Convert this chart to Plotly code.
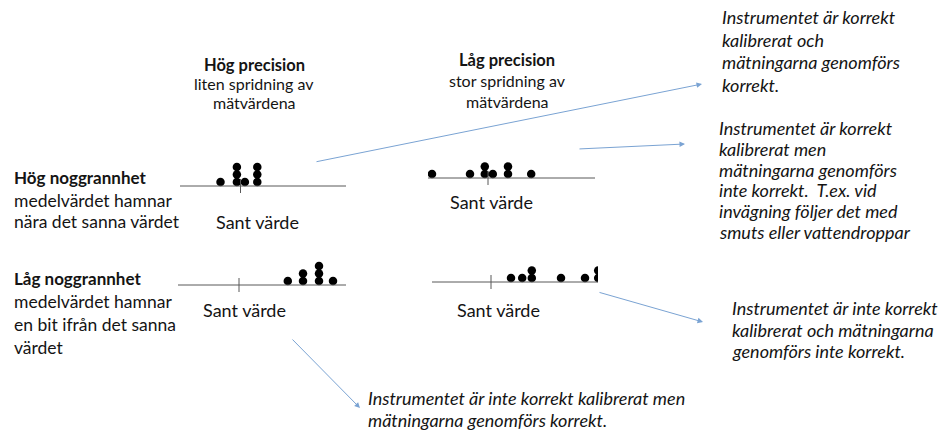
# ==========================================
# Noggrannhet och precision
# ==========================================

import plotly.graph_objects as go

W, H = 947, 432

TEXT = "#141414"
LINE = "#595959"
ARROW = "#7aa3d3"
FONT = "Lato"

# ==========================================
# Data
# ==========================================

# measured values per case, relative to the true value (0 = "Sant värde")
hog_nogg_hog_prec = [-2.5, -0.45, -0.45, -0.45, 0.55, 2.1, 2.1, 2.1]
hog_nogg_lag_prec = [-7.0, -2.25, -0.4, -0.4, 0.6, 2.5, 2.5, 5.4]
lag_nogg_hog_prec = [6.1, 8.0, 8.0, 10.0, 10.0, 10.0, 11.75]
lag_nogg_lag_prec = [2.5, 3.9, 5.1, 5.1, 8.75, 11.75, 13.4, 13.4]

sant_varde = "Sant värde"

rubrik_hog_prec = ["Hög precision", "liten spridning av", "mätvärdena"]
rubrik_lag_prec = ["Låg precision", "stor spridning av", "mätvärdena"]

rad_hog_nogg = ["Hög noggrannhet", "medelvärdet hamnar", "nära det sanna värdet"]
rad_lag_nogg = ["Låg noggrannhet", "medelvärdet hamnar",
                "en bit ifrån det sanna", "värdet"]

kommentar_1 = ["Instrumentet är korrekt", "kalibrerat och",
               "mätningarna genomförs", "korrekt."]
kommentar_2 = ["Instrumentet är korrekt", "kalibrerat men",
               "mätningarna genomförs", "inte korrekt.\u00a0 T.ex. vid",
               "invägning följer det med", "smuts eller vattendroppar"]
kommentar_3 = ["Instrumentet är inte korrekt", "kalibrerat och mätningarna",
               "genomförs inte korrekt."]
kommentar_4 = ["Instrumentet är inte korrekt kalibrerat men",
               "mätningarna genomförs korrekt."]

# ==========================================
# Layout positions (pixels)
# ==========================================

PX_PER_UNIT = 8

# values, tick x, baseline y, line start, line end, label x, label y
PANELS = [
    (hog_nogg_hog_prec, 240.5, 186, 180, 346, 257, 222),
    (hog_nogg_lag_prec, 488, 178, 428, 595, 491, 202),
    (lag_nogg_hog_prec, 239, 285, 178, 346, 244, 310),
    (lag_nogg_lag_prec, 491, 282, 432, 598, 498, 310),
]

# head x, head y, tail x, tail y
ARROWS = [
    (702, 84, 315, 162),
    (685, 144, 578, 149),
    (703, 322, 598, 292),
    (360, 408, 291, 338),
]


def px(x):
    return x / W


def py(y):
    return 1 - y / H


def text_block(fig, lines, x, y0, step, size, anchor="left",
               italic=False, bold_first=False, bold_size=None):
    for i, line in enumerate(lines):
        t = line
        s = size
        if bold_first and i == 0:
            t = f"<b>{t}</b>"
            s = bold_size or size
        if italic:
            t = f"<i>{t}</i>"
        fig.add_annotation(
            x=px(x), y=py(y0 + i * step),
            xref="paper", yref="paper",
            text=t, showarrow=False,
            xanchor=anchor, yanchor="middle",
            font=dict(family=FONT, size=s, color=TEXT)
        )


fig = go.Figure()

# ==========================================
# Dot panels
# ==========================================

for i, (values, tick, base, x0, x1, lx, ly) in enumerate(PANELS):

    suffix = "" if i == 0 else str(i + 1)
    xa, ya = "x" + suffix, "y" + suffix

    # stack repeated values on top of each other
    seen = {}
    levels = []
    for v in values:
        k = seen.get(v, 0)
        levels.append(k)
        seen[v] = k + 1

    fig.add_trace(go.Scatter(
        x=values,
        y=[4 + 7.5 * k for k in levels],
        mode="markers",
        marker=dict(size=8.5, color="black", line=dict(width=0)),
        xaxis=xa, yaxis=ya,
        hoverinfo="skip",
        showlegend=False
    ))

    lo = (x0 - tick) / PX_PER_UNIT
    hi = (x1 - tick) / PX_PER_UNIT

    fig.update_layout({
        "xaxis" + suffix: dict(
            domain=[px(x0), px(x1)], range=[lo, hi],
            visible=False, fixedrange=True, anchor=ya
        ),
        "yaxis" + suffix: dict(
            domain=[py(base + 10), py(base - 30)], range=[-10, 30],
            visible=False, fixedrange=True, anchor=xa
        ),
    })

    # number line and the true value mark
    fig.add_shape(type="line", xref=xa, yref=ya,
                  x0=lo, x1=hi, y0=0, y1=0,
                  line=dict(color=LINE, width=1))
    fig.add_shape(type="line", xref=xa, yref=ya,
                  x0=0, x1=0, y0=-7, y1=7,
                  line=dict(color=LINE, width=1))

    text_block(fig, [sant_varde], lx, ly, 0, 18, anchor="center")

# ==========================================
# Headings and labels
# ==========================================

text_block(fig, rubrik_hog_prec, 254, 65, 18.5, 16, anchor="center",
           bold_first=True, bold_size=16.5)
text_block(fig, rubrik_lag_prec, 507, 60, 20.5, 16, anchor="center",
           bold_first=True, bold_size=16.5)

text_block(fig, rad_hog_nogg, 12, 178, 22, 17.5,
           bold_first=True, bold_size=17)
text_block(fig, rad_lag_nogg, 12, 278, 23.3, 17.5,
           bold_first=True, bold_size=17)

text_block(fig, kommentar_1, 720, 17, 22.7, 18, italic=True)
text_block(fig, kommentar_2, 717, 128, 20.8, 18, italic=True)
text_block(fig, kommentar_3, 730, 308, 21.5, 18, italic=True)
text_block(fig, kommentar_4, 366, 398, 22, 18, italic=True)

# ==========================================
# Arrows
# ==========================================

for hx, hy, tx, ty in ARROWS:
    fig.add_annotation(
        x=px(hx), y=py(hy), xref="paper", yref="paper",
        ax=tx - hx, ay=ty - hy,
        text="", showarrow=True,
        arrowhead=2, arrowsize=1.1, arrowwidth=1,
        arrowcolor=ARROW, standoff=0
    )

fig.update_layout(
    width=W, height=H,
    margin=dict(l=0, r=0, t=0, b=0),
    paper_bgcolor="white",
    plot_bgcolor="rgba(0,0,0,0)",
    showlegend=False
)

fig.write_html(
    "out.html",
    config={"displayModeBar": False},
    post_script="document.body.style.margin='0';"
)
